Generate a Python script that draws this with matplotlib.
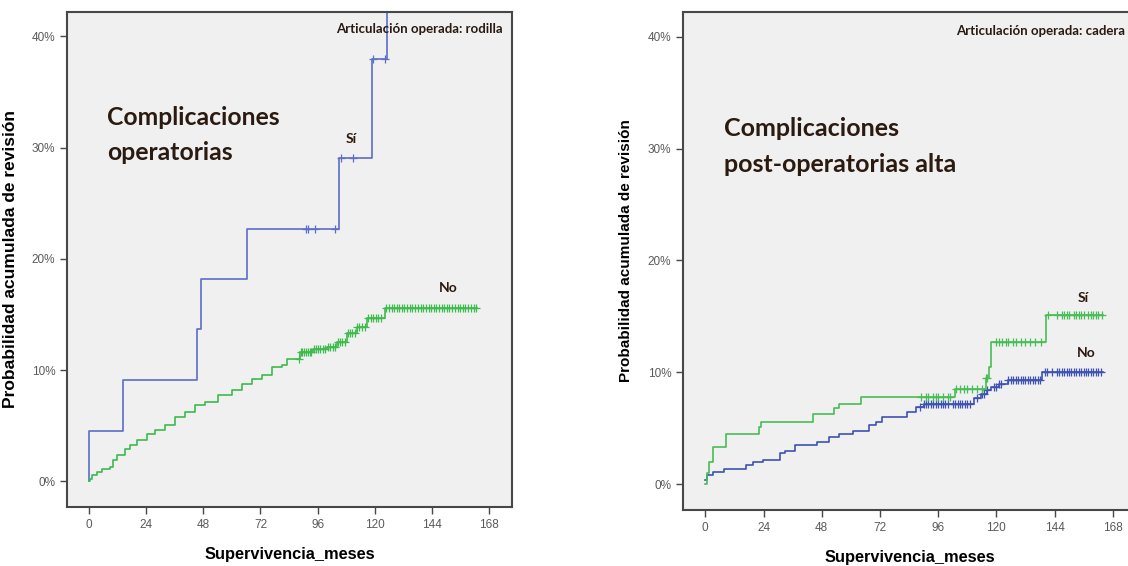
# Curvas de probabilidad acumulada de revisión (Kaplan-Meier, 1 - S)
# Rodilla: complicaciones operatorias / Cadera: complicaciones post-operatorias alta
import numpy as np
import matplotlib.pyplot as plt

### datos ###
# rodilla, grupo "Sí"
si_rod_t = [0, 0, 14.5, 45.4, 47.0, 66.3, 105.0, 119.0, 125.0]
si_rod_p = [0, 4.5, 9.1, 13.7, 18.2, 22.7, 29.1, 38.0, 50.0]
si_rod_fin = 125.0
si_rod_cens = [91.2, 92.0, 95.0, 103.4, 105.8, 111.0, 119.3, 124.4]

# rodilla, grupo "No"
no_rod_t = [0, 0.4, 1.1, 3.2, 5.3, 8.8, 10.2, 11.6, 15.1, 17.2, 20.0, 24.2, 27.7,
            31.9, 36.1, 40.3, 44.5, 48.7, 54.3, 60.0, 64.2, 68.4, 72.6, 76.8,
            81.0, 83.0, 88.7, 94.2, 99.9, 104.0, 108.3, 112.5, 116.7, 124.4]
no_rod_p = [0, 0.24, 0.54, 0.84, 1.08, 1.29, 1.9, 2.34, 2.94, 3.24, 3.7, 4.3, 4.65,
            5.05, 5.8, 6.25, 6.85, 7.15, 7.75, 8.2, 8.8, 9.25, 9.55, 10.3,
            10.5, 11.05, 11.65, 11.86, 12.1, 12.55, 13.3, 13.9, 14.65, 15.6]
no_rod_fin = 163.0
no_rod_cens = [88.2, 88.9, 89.6, 90.3, 91.1, 91.8, 92.7, 93.4, 94.3, 95.2, 96.1, 97.0,
               98.2, 99.1, 100.3, 101.2, 102.4, 103.3, 104.5, 105.6, 106.4, 107.5,
               108.6, 109.4, 110.5, 111.6, 112.7, 113.5, 114.6, 115.8, 117.1, 118.3,
               119.2, 120.4, 121.5, 122.6, 124.8, 125.9, 127.1, 128.0, 129.2, 130.3,
               131.5, 132.4, 133.6, 134.8, 135.7, 137.0, 138.1, 139.3, 140.2, 141.4,
               142.6, 143.5, 144.7, 145.8, 147.0, 148.1, 149.2, 150.4, 151.3, 152.5,
               153.6, 154.8, 155.7, 156.9, 158.0, 159.2, 160.3, 161.5, 162.6]

# cadera, grupo "Sí"
si_cad_t = [0, 0.5, 1.5, 3.0, 8.4, 22.0, 23.0, 44.6, 53.0, 55.0, 64.0, 103.0,
            115.7, 117.0, 118.0, 140.5]
si_cad_p = [0, 1.0, 2.0, 3.3, 4.5, 5.1, 5.6, 6.3, 6.8, 7.2, 7.8, 8.55,
            9.5, 10.5, 12.7, 15.1]
si_cad_fin = 164.0
si_cad_cens = [89, 91, 92, 94, 95, 96, 98, 100, 101, 103.5, 105, 106.5, 108, 110, 112,
               114, 115.9, 116.3, 120, 121, 122.5, 124, 125, 127, 128, 130, 132, 134,
               136, 138.5, 141.5, 145, 147, 148, 149, 150, 152, 153, 154, 155, 156,
               158, 159, 160, 161, 162, 163.5]

# cadera, grupo "No"
no_cad_t = [0, 0.5, 3.0, 7.6, 16.7, 19.5, 23.7, 30.7, 32.7, 37.0, 46.0, 51.0, 55.0,
            60.7, 67.7, 70.4, 73.0, 83.0, 87.0, 90.0, 111.0, 113.7, 116.0, 117.9,
            121.0, 124.8, 139.0]
no_cad_p = [0.36, 0.8, 1.1, 1.34, 1.7, 2.0, 2.2, 2.75, 3.0, 3.5, 3.8, 4.2, 4.5,
            4.8, 5.3, 5.6, 6.0, 6.5, 6.9, 7.2, 7.7, 8.1, 8.4, 8.7,
            9.0, 9.3, 10.0]
no_cad_fin = 164.0
no_cad_cens = [88.5, 90, 91, 92, 93, 94, 95, 96, 97, 98, 99, 100, 102, 103, 104, 105,
               106, 107, 108, 109, 112, 114, 115, 116, 119, 120, 121, 122, 125, 126,
               127, 128, 129, 130, 131, 132, 133, 134, 135, 136, 137, 138, 140, 141,
               143, 145, 146, 147, 148, 149, 150, 151, 152, 153, 154, 155, 156, 157,
               158, 159, 160, 161, 162, 163]

x_ticks = [0, 24, 48, 72, 96, 120, 144, 168]
y_ticks = [0, 10, 20, 30, 40]

### funciones ###
def km_curve(ax, t, p, fin, cens, color):
    t = np.array(t, dtype=float)
    p = np.array(p, dtype=float)
    ax.step(np.append(t, fin), np.append(p, p[-1]), where='post', color=color, lw=1.2)
    c = np.array(cens, dtype=float)
    idx = np.searchsorted(t, c, side='right') - 1
    ax.plot(c, p[idx], ls='none', marker='+', ms=5.5, mew=0.9, color=color)

def style_axes(ax, ylab_size, ylab_xy):
    ax.set_facecolor('#f0f0f0')
    ax.set_xlim(-9.2, 177.6)
    ax.set_ylim(-2.3, 42.2)
    ax.set_xticks(x_ticks)
    ax.set_yticks(y_ticks)
    ax.set_yticklabels([f'{v}%' for v in y_ticks])
    for s in ax.spines.values():
        s.set_color('#474747')
        s.set_linewidth(1.5)
    ax.tick_params(direction='out', length=5, width=1, color='#474747',
                   labelcolor='#5a5a5a', labelsize=8.5)
    ax.set_xlabel('Supervivencia_meses', fontsize=11.8, fontweight='bold',
                  family='Liberation Sans', labelpad=12)
    ax.set_ylabel('Probabilidad acumulada de revisión', fontsize=ylab_size,
                  fontweight='bold', family='Liberation Sans')
    ax.yaxis.set_label_coords(*ylab_xy)

### figura ###
plt.rcParams['font.family'] = ['Liberation Sans', 'DejaVu Sans']
fig = plt.figure(figsize=(11.28, 5.66), dpi=100)
ax1 = fig.add_axes([67 / 1128, 1 - 507 / 566, 445 / 1128, 495 / 566])
ax2 = fig.add_axes([683 / 1128, 1 - 510 / 566, 453 / 1128, 498 / 566])

km_curve(ax1, si_rod_t, si_rod_p, si_rod_fin, si_rod_cens, '#5b6ec8')
km_curve(ax1, no_rod_t, no_rod_p, no_rod_fin, no_rod_cens, '#3dbb4d')
style_axes(ax1, 12.5, (-0.11, 0.5))

km_curve(ax2, no_cad_t, no_cad_p, no_cad_fin, no_cad_cens, '#3d52b3')
km_curve(ax2, si_cad_t, si_cad_p, si_cad_fin, si_cad_cens, '#47bd55')
style_axes(ax2, 11, (-0.11, 0.52))

txt = dict(family='Lato', fontweight='bold', color='#2a1a10')
ax1.text(0.98, 0.965, 'Articulación operada: rodilla', transform=ax1.transAxes,
         ha='right', va='center', fontsize=9.5, **txt)
ax1.text(0.09, 0.751, 'Complicaciones\noperatorias', transform=ax1.transAxes,
         ha='left', va='center', fontsize=17.8, linespacing=1.64, **txt)
ax1.text(110, 30.8, 'Sí', ha='center', va='center', fontsize=10, **txt)
ax1.text(151, 17.4, 'No', ha='center', va='center', fontsize=10, **txt)

ax2.text(0.975, 0.962, 'Articulación operada: cadera', transform=ax2.transAxes,
         ha='right', va='center', fontsize=9.5, **txt)
ax2.text(0.09, 0.73, 'Complicaciones\npost-operatorias alta', transform=ax2.transAxes,
         ha='left', va='center', fontsize=18, linespacing=1.64, **txt)
ax2.text(156, 16.6, 'Sí', ha='center', va='center', fontsize=10, **txt)
ax2.text(157, 11.7, 'No', ha='center', va='center', fontsize=10, **txt)

fig.savefig('out.png', dpi=100)
